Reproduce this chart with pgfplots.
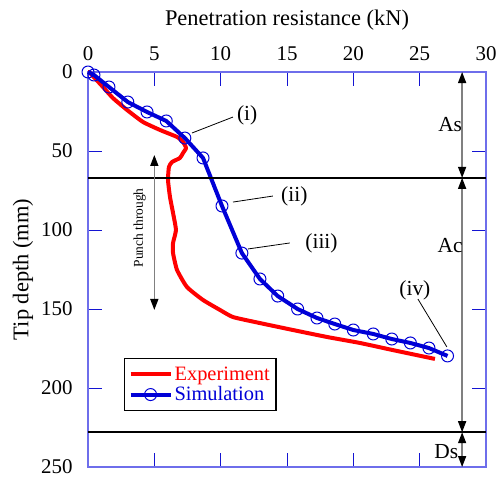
\documentclass[border=0pt]{standalone}
\usepackage{pgfplots}
\pgfplotsset{compat=1.18}
\usepackage{fontspec}
\setmainfont{Liberation Serif}
\usetikzlibrary{arrows.meta}
\definecolor{axblue}{RGB}{110,110,235}
\definecolor{tkblue}{RGB}{20,20,210}
\definecolor{simblue}{RGB}{0,0,215}
\definecolor{exred}{RGB}{255,0,0}
\begin{document}
\begin{tikzpicture}
\begin{axis}[
  scale only axis, width=398bp, height=395bp,
  xmin=0, xmax=30, ymin=0, ymax=250,
  y dir=reverse,
  xtick={0,5,...,30}, ytick={0,50,...,250},
  xticklabel pos=right,
  tick align=inside,
  major tick length=14bp,
  axis line style={axblue, line width=1.2bp},
  tick style={tkblue, line width=1bp},
  /pgf/number format/assume math mode=true,
  ticklabel style={font=\fontsize{21}{24}\selectfont},
  label style={font=\fontsize{22.5}{26}\selectfont},
  xlabel={Penetration resistance (kN)},
  ylabel={Tip depth (mm)},
  xticklabel style={yshift=8bp},
  yticklabel style={xshift=-12bp},
  xlabel style={yshift=9bp},
  ylabel style={yshift=1bp},
  clip=false,
  legend style={at={(0.09,0.276)}, anchor=north west, draw=black, line width=1.5bp,
    font=\fontsize{20.5}{22}\selectfont, inner xsep=4bp, inner ysep=6bp, row sep=1bp},
  legend cell align=left,
  legend image code/.code={\draw[mark repeat=2,mark phase=2,#1] plot coordinates {(0bp,0bp) (20bp,0bp) (40bp,0bp)};},
]
\addplot[exred, line width=4bp, line join=round, smooth, tension=0.3] coordinates {
(0,0) (0.15,0.6) (1.13,9.5) (1.88,16.5) (2.94,24) (4.14,31.6) (5.43,36.7)
(6.71,41.1) (7.16,44.3) (7.39,48.1) (7.16,51.3) (6.93,54.4) (6.33,57)
(6.10,60.1) (6.03,68.4) (6.18,79.1) (6.41,89.2) (6.63,100) (6.41,108.2)
(6.41,114.6) (6.71,125.3) (7.46,136.1) (8.67,144.3) (9.95,150.6) (10.93,155.1)
(12.96,158.9) (15.45,163.3) (18.01,167.7) (20.5,171.5) (22.98,176) (26.15,181.6)
};
\addlegendentry{\textcolor{exred}{Experiment}}
\addplot[simblue, line width=4bp, line join=round, mark=o, mark size=6bp,
  mark options={line width=1bp, fill=none}] coordinates {
(0,0) (0.45,1.9) (1.58,9.5) (3.0,19) (4.45,25.3) (5.9,31) (7.3,41.8)
(8.67,54.4) (10.1,84.8) (11.6,114.6) (12.96,131) (14.3,141.8) (15.8,150)
(17.26,155.7) (18.6,159.5) (20.0,163.3) (21.5,165.8) (22.9,169) (24.3,171.5)
(25.7,174.7) (27.1,179.7)
};
\addlegendentry{\textcolor{simblue}{Simulation}}
% layer boundaries
\draw[black, line width=1.5bp] (axis cs:0,67) -- (axis cs:30,67);
\draw[black, line width=1.5bp] (axis cs:0,228) -- (axis cs:30,228);
% layer arrows
\draw[gray, line width=1.5bp, {Triangle[black,length=11bp,width=8bp]}-{Triangle[black,length=11bp,width=8bp]}] (axis cs:28.2,0) -- (axis cs:28.2,67);
\draw[gray, line width=1.5bp, {Triangle[black,length=11bp,width=8bp]}-{Triangle[black,length=11bp,width=8bp]}] (axis cs:28.2,67) -- (axis cs:28.2,228);
\draw[gray, line width=1.5bp, {Triangle[black,length=11bp,width=8bp]}-{Triangle[black,length=11bp,width=8bp]}] (axis cs:28.2,228) -- (axis cs:28.2,250);
\node[font=\fontsize{21.5}{24}\selectfont] at (axis cs:27.3,33.5) {As};
\node[font=\fontsize{21.5}{24}\selectfont] at (axis cs:27.3,110) {Ac};
\node[font=\fontsize{21.5}{24}\selectfont] at (axis cs:27.0,240.5) {Ds};
% punch through
\draw[gray, line width=1.5bp, {Triangle[black,length=11bp,width=8bp]}-{Triangle[black,length=11bp,width=8bp]}] (axis cs:5.0,52.5) -- (axis cs:5.0,150.6);
\node[rotate=90, font=\fontsize{13.5}{15}\selectfont] at (axis cs:3.9,98.7) {Punch through};
% annotations
\draw[black, line width=0.8bp] (axis cs:7.84,38.6) -- (axis cs:10.93,28.5);
\node[font=\fontsize{21.5}{24}\selectfont] at (axis cs:12.0,27.2) {(i)};
\draw[black, line width=0.8bp] (axis cs:10.93,82.3) -- (axis cs:13.94,78.5);
\node[font=\fontsize{21.5}{24}\selectfont] at (axis cs:15.55,78.5) {(ii)};
\draw[black, line width=0.8bp] (axis cs:12.06,112) -- (axis cs:15.22,108.2);
\node[font=\fontsize{21.5}{24}\selectfont] at (axis cs:17.6,108.2) {(iii)};
\draw[black, line width=0.8bp] (axis cs:24.87,143.7) -- (axis cs:27.05,174);
\node[font=\fontsize{21.5}{24}\selectfont] at (axis cs:24.64,138) {(iv)};
\coordinate (ll) at (rel axis cs:0,0);
\coordinate (ur) at (rel axis cs:1,1);
\end{axis}
\path ([xshift=-88bp,yshift=-8bp]ll) rectangle ([xshift=14bp,yshift=72bp]ur);
\end{tikzpicture}
\end{document}
